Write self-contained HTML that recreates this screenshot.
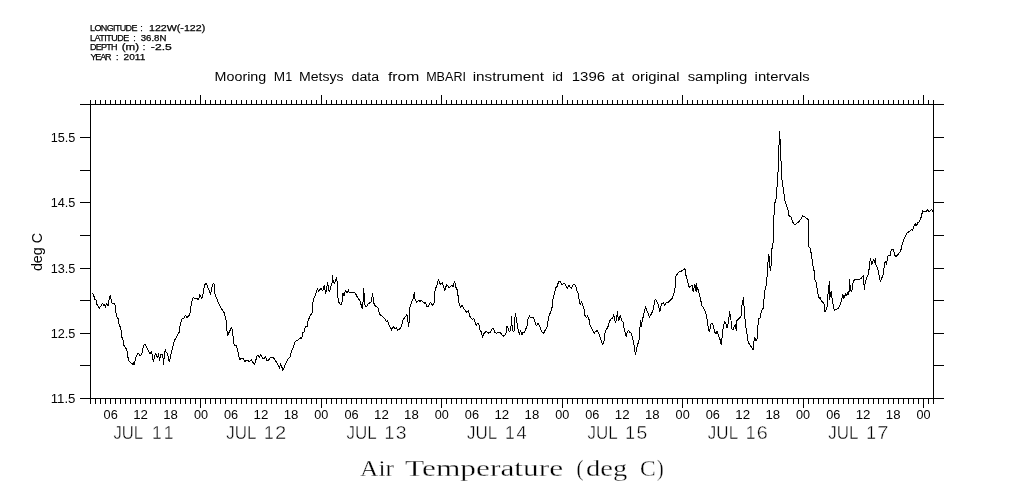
<!DOCTYPE html>
<html>
<head>
<meta charset="utf-8">
<title>Air Temperature (deg C)</title>
<style>
html,body{margin:0;padding:0;background:#fff;}
body{width:1009px;height:504px;overflow:hidden;font-family:"Liberation Sans",sans-serif;}
svg{display:block;}
svg text{font-family:"Liberation Sans",sans-serif;fill:#000;}
</style>
</head>
<body>
<svg width="1009" height="504" viewBox="0 0 1009 504">
<rect x="0" y="0" width="1009" height="504" fill="#ffffff"/>
<path d="M80 104.5H944M80 398.5H944M90.5 104.5V398.5M933.5 104.5V398.5M90.5 104.5V100M90.5 398.5V404M95.5 104.5V100M95.5 398.5V404M100.5 104.5V100M100.5 398.5V404M105.5 104.5V100M105.5 398.5V404M110.5 104.5V100M110.5 398.5V404M115.5 104.5V100M115.5 398.5V404M120.5 104.5V100M120.5 398.5V404M125.5 104.5V100M125.5 398.5V404M130.5 104.5V100M130.5 398.5V404M135.5 104.5V100M135.5 398.5V404M140.5 104.5V100M140.5 398.5V404M145.5 104.5V100M145.5 398.5V404M150.5 104.5V100M150.5 398.5V404M155.5 104.5V100M155.5 398.5V404M160.5 104.5V100M160.5 398.5V404M165.5 104.5V100M165.5 398.5V404M170.5 104.5V100M170.5 398.5V404M175.5 104.5V100M175.5 398.5V404M180.5 104.5V100M180.5 398.5V404M185.5 104.5V100M185.5 398.5V404M190.5 104.5V100M190.5 398.5V404M195.5 104.5V100M195.5 398.5V404M200.5 104.5V95M200.5 398.5V408M205.5 104.5V100M205.5 398.5V404M210.5 104.5V100M210.5 398.5V404M215.5 104.5V100M215.5 398.5V404M220.5 104.5V100M220.5 398.5V404M225.5 104.5V100M225.5 398.5V404M231.5 104.5V100M231.5 398.5V404M236.5 104.5V100M236.5 398.5V404M241.5 104.5V100M241.5 398.5V404M246.5 104.5V100M246.5 398.5V404M251.5 104.5V100M251.5 398.5V404M256.5 104.5V100M256.5 398.5V404M261.5 104.5V100M261.5 398.5V404M266.5 104.5V100M266.5 398.5V404M271.5 104.5V100M271.5 398.5V404M276.5 104.5V100M276.5 398.5V404M281.5 104.5V100M281.5 398.5V404M286.5 104.5V100M286.5 398.5V404M291.5 104.5V100M291.5 398.5V404M296.5 104.5V100M296.5 398.5V404M301.5 104.5V100M301.5 398.5V404M306.5 104.5V100M306.5 398.5V404M311.5 104.5V100M311.5 398.5V404M316.5 104.5V100M316.5 398.5V404M321.5 104.5V95M321.5 398.5V408M326.5 104.5V100M326.5 398.5V404M331.5 104.5V100M331.5 398.5V404M336.5 104.5V100M336.5 398.5V404M341.5 104.5V100M341.5 398.5V404M346.5 104.5V100M346.5 398.5V404M351.5 104.5V100M351.5 398.5V404M356.5 104.5V100M356.5 398.5V404M361.5 104.5V100M361.5 398.5V404M366.5 104.5V100M366.5 398.5V404M371.5 104.5V100M371.5 398.5V404M376.5 104.5V100M376.5 398.5V404M381.5 104.5V100M381.5 398.5V404M386.5 104.5V100M386.5 398.5V404M391.5 104.5V100M391.5 398.5V404M396.5 104.5V100M396.5 398.5V404M401.5 104.5V100M401.5 398.5V404M406.5 104.5V100M406.5 398.5V404M411.5 104.5V100M411.5 398.5V404M416.5 104.5V100M416.5 398.5V404M421.5 104.5V100M421.5 398.5V404M426.5 104.5V100M426.5 398.5V404M431.5 104.5V100M431.5 398.5V404M436.5 104.5V100M436.5 398.5V404M441.5 104.5V95M441.5 398.5V408M446.5 104.5V100M446.5 398.5V404M451.5 104.5V100M451.5 398.5V404M456.5 104.5V100M456.5 398.5V404M461.5 104.5V100M461.5 398.5V404M466.5 104.5V100M466.5 398.5V404M471.5 104.5V100M471.5 398.5V404M476.5 104.5V100M476.5 398.5V404M481.5 104.5V100M481.5 398.5V404M486.5 104.5V100M486.5 398.5V404M491.5 104.5V100M491.5 398.5V404M496.5 104.5V100M496.5 398.5V404M501.5 104.5V100M501.5 398.5V404M506.5 104.5V100M506.5 398.5V404M512.5 104.5V100M512.5 398.5V404M517.5 104.5V100M517.5 398.5V404M522.5 104.5V100M522.5 398.5V404M527.5 104.5V100M527.5 398.5V404M532.5 104.5V100M532.5 398.5V404M537.5 104.5V100M537.5 398.5V404M542.5 104.5V100M542.5 398.5V404M547.5 104.5V100M547.5 398.5V404M552.5 104.5V100M552.5 398.5V404M557.5 104.5V100M557.5 398.5V404M562.5 104.5V95M562.5 398.5V408M567.5 104.5V100M567.5 398.5V404M572.5 104.5V100M572.5 398.5V404M577.5 104.5V100M577.5 398.5V404M582.5 104.5V100M582.5 398.5V404M587.5 104.5V100M587.5 398.5V404M592.5 104.5V100M592.5 398.5V404M597.5 104.5V100M597.5 398.5V404M602.5 104.5V100M602.5 398.5V404M607.5 104.5V100M607.5 398.5V404M612.5 104.5V100M612.5 398.5V404M617.5 104.5V100M617.5 398.5V404M622.5 104.5V100M622.5 398.5V404M627.5 104.5V100M627.5 398.5V404M632.5 104.5V100M632.5 398.5V404M637.5 104.5V100M637.5 398.5V404M642.5 104.5V100M642.5 398.5V404M647.5 104.5V100M647.5 398.5V404M652.5 104.5V100M652.5 398.5V404M657.5 104.5V100M657.5 398.5V404M662.5 104.5V100M662.5 398.5V404M667.5 104.5V100M667.5 398.5V404M672.5 104.5V100M672.5 398.5V404M677.5 104.5V100M677.5 398.5V404M682.5 104.5V95M682.5 398.5V408M687.5 104.5V100M687.5 398.5V404M692.5 104.5V100M692.5 398.5V404M697.5 104.5V100M697.5 398.5V404M702.5 104.5V100M702.5 398.5V404M707.5 104.5V100M707.5 398.5V404M712.5 104.5V100M712.5 398.5V404M717.5 104.5V100M717.5 398.5V404M722.5 104.5V100M722.5 398.5V404M727.5 104.5V100M727.5 398.5V404M732.5 104.5V100M732.5 398.5V404M737.5 104.5V100M737.5 398.5V404M742.5 104.5V100M742.5 398.5V404M747.5 104.5V100M747.5 398.5V404M752.5 104.5V100M752.5 398.5V404M757.5 104.5V100M757.5 398.5V404M762.5 104.5V100M762.5 398.5V404M767.5 104.5V100M767.5 398.5V404M772.5 104.5V100M772.5 398.5V404M777.5 104.5V100M777.5 398.5V404M782.5 104.5V100M782.5 398.5V404M787.5 104.5V100M787.5 398.5V404M793.5 104.5V100M793.5 398.5V404M798.5 104.5V100M798.5 398.5V404M803.5 104.5V95M803.5 398.5V408M808.5 104.5V100M808.5 398.5V404M813.5 104.5V100M813.5 398.5V404M818.5 104.5V100M818.5 398.5V404M823.5 104.5V100M823.5 398.5V404M828.5 104.5V100M828.5 398.5V404M833.5 104.5V100M833.5 398.5V404M838.5 104.5V100M838.5 398.5V404M843.5 104.5V100M843.5 398.5V404M848.5 104.5V100M848.5 398.5V404M853.5 104.5V100M853.5 398.5V404M858.5 104.5V100M858.5 398.5V404M863.5 104.5V100M863.5 398.5V404M868.5 104.5V100M868.5 398.5V404M873.5 104.5V100M873.5 398.5V404M878.5 104.5V100M878.5 398.5V404M883.5 104.5V100M883.5 398.5V404M888.5 104.5V100M888.5 398.5V404M893.5 104.5V100M893.5 398.5V404M898.5 104.5V100M898.5 398.5V404M903.5 104.5V100M903.5 398.5V404M908.5 104.5V100M908.5 398.5V404M913.5 104.5V100M913.5 398.5V404M918.5 104.5V100M918.5 398.5V404M923.5 104.5V95M923.5 398.5V408M928.5 104.5V100M928.5 398.5V404M933.5 104.5V100M933.5 398.5V404M80 137.5H90.5M933.5 137.5H944M80 170.5H90.5M933.5 170.5H944M80 202.5H90.5M933.5 202.5H944M80 235.5H90.5M933.5 235.5H944M80 268.5H90.5M933.5 268.5H944M80 300.5H90.5M933.5 300.5H944M80 333.5H90.5M933.5 333.5H944M80 365.5H90.5M933.5 365.5H944M80 398.5H90.5M933.5 398.5H944" fill="none" stroke="#000" stroke-width="1" shape-rendering="crispEdges"/>
<polyline points="92.0,293.8 93.5,294.3 94.7,299.3 96.3,300.1 96.6,303.7 99.3,308.4 102.5,303.4 103.9,305.2 104.8,304.8 105.5,307.6 106.4,303.7 108.2,305.8 109.4,296.9 110.6,295.3 111.3,301.7 112.4,303.4 114.2,303.1 115.4,306.0 115.8,312.0 116.7,316.7 118.6,319.5 119.1,325.5 120.7,327.0 121.7,336.9 122.9,338.9 123.7,345.0 126.9,349.8 127.9,357.2 129.3,361.7 131.3,363.2 132.3,364.7 133.3,362.7 134.3,365.2 135.6,358.2 138.3,352.8 140.3,356.2 142.2,352.3 143.7,345.0 145.2,344.3 149.7,353.7 151.7,351.8 153.4,362.2 155.4,352.8 157.6,358.2 158.6,352.8 159.4,361.2 160.8,354.2 162.8,354.2 163.4,365.2 164.4,354.7 165.4,349.3 166.1,352.3 167.5,353.7 169.3,362.2 170.7,355.7 172.7,347.3 173.5,343.3 175.0,339.4 176.0,337.9 179.4,331.9 179.7,328.0 180.2,324.1 182.1,318.7 184.1,318.2 185.4,315.5 187.1,317.5 189.4,315.2 190.4,312.2 190.9,306.8 191.9,301.3 193.4,297.3 195.3,299.0 197.3,298.3 198.6,300.3 199.6,294.4 201.6,298.3 202.8,295.9 203.8,289.4 204.8,284.4 206.5,283.5 210.5,294.4 212.7,284.0 214.2,283.8 214.7,292.9 217.7,301.3 220.6,307.3 224.1,312.7 225.6,317.7 226.6,323.1 226.7,329.4 227.7,335.4 231.4,327.5 232.4,329.4 233.7,343.3 234.9,345.8 236.4,345.8 237.7,349.8 238.8,356.7 240.3,360.2 241.0,358.2 243.3,358.7 245.3,362.2 246.0,360.2 248.3,360.7 249.0,362.2 251.5,359.7 254.5,365.2 256.9,356.2 258.2,355.5 259.5,358.2 260.5,354.5 263.5,359.2 265.4,356.5 266.6,360.2 268.4,360.2 270.8,357.2 272.6,357.2 274.4,358.9 277.5,363.7 279.5,368.6 280.5,363.2 283.0,370.4 285.0,365.2 288.5,358.2 289.9,357.7 291.6,350.8 293.4,346.8 295.4,341.3 297.4,340.4 301.2,337.4 301.5,339.4 302.8,332.4 304.3,331.9 305.3,327.0 307.1,326.5 307.7,322.0 309.7,316.6 312.1,312.7 312.7,303.7 313.7,298.3 315.7,294.3 317.4,288.4 318.4,291.3 321.3,288.4 322.6,291.3 324.3,285.4 325.6,294.3 327.6,282.4 329.3,292.3 331.3,284.9 332.2,282.9 332.5,275.5 333.2,281.9 334.5,283.4 336.5,277.5 337.2,281.9 337.7,296.3 338.9,302.3 340.5,305.2 341.9,303.2 342.9,293.3 344.1,295.8 345.4,290.4 347.4,292.8 348.6,289.4 349.1,292.8 354.8,292.3 357.5,297.3 360.0,300.8 362.3,309.2 363.0,302.8 363.5,288.4 364.5,296.8 365.0,304.7 366.5,307.2 367.5,304.5 371.4,301.6 372.6,293.3 373.6,302.8 375.4,306.2 377.9,307.7 379.9,314.7 382.3,316.1 385.4,319.8 386.6,322.1 387.6,320.4 388.6,324.3 391.3,328.9 391.3,330.7 392.1,328.5 393.3,326.5 394.7,328.5 396.5,327.7 397.9,330.3 400.5,328.1 401.7,325.7 402.5,321.3 404.4,317.8 406.4,315.2 406.8,314.7 407.6,316.6 407.5,321.7 408.4,322.5 408.4,326.7 408.6,322.5 409.6,322.1 409.6,308.3 410.8,304.3 413.2,298.3 414.5,292.4 414.7,298.3 416.5,302.3 419.2,299.8 419.7,301.8 421.2,300.3 424.6,303.3 425.4,301.8 426.6,306.3 428.6,306.3 430.4,302.3 432.4,305.3 434.4,302.3 434.8,292.4 435.8,287.9 437.0,285.4 438.5,279.5 440.5,284.9 442.3,282.5 444.7,290.4 446.7,284.4 449.2,287.9 451.9,285.4 452.9,286.9 454.6,281.5 455.9,287.4 457.4,290.4 458.9,302.8 460.6,307.8 461.8,305.3 466.3,312.2 468.3,310.7 469.8,316.2 472.3,319.7 473.8,318.7 476.4,326.3 477.1,323.8 478.7,323.8 480.4,331.7 481.4,330.8 482.4,337.5 483.9,333.7 486.4,331.3 488.7,333.2 490.3,332.2 492.3,328.6 493.6,328.8 494.8,332.2 496.6,333.5 497.8,332.2 500.3,332.2 501.7,334.7 503.7,336.2 505.9,334.5 506.5,326.3 507.5,326.3 509.5,332.2 510.9,328.8 511.5,315.9 512.2,328.8 513.5,332.2 514.4,330.3 514.6,320.8 515.4,313.4 516.6,320.8 518.1,329.3 519.4,335.2 520.4,330.3 522.1,335.2 522.6,332.5 524.4,332.2 527.0,326.3 528.0,319.3 529.5,315.4 530.3,317.9 533.5,317.9 536.5,326.3 537.7,322.8 539.4,325.3 541.9,332.2 543.4,333.5 547.4,326.3 548.4,317.3 551.9,309.0 552.6,300.3 554.9,291.3 555.7,287.9 557.4,285.9 558.4,281.9 560.4,281.4 561.7,284.9 563.4,283.4 564.8,283.7 567.3,288.4 568.8,285.4 571.3,288.4 573.3,284.4 574.8,284.4 576.5,287.9 577.2,291.8 578.5,293.3 579.2,300.8 580.5,305.2 581.5,301.3 584.2,309.7 584.7,315.2 586.7,317.6 587.5,315.5 589.0,319.4 590.0,325.3 592.9,330.8 594.4,334.3 594.9,331.8 597.4,330.6 598.4,332.3 602.4,344.2 603.7,343.2 605.3,331.3 607.8,327.3 609.6,320.9 611.6,318.4 612.8,318.1 613.6,314.4 614.6,318.9 615.6,323.4 616.5,318.9 617.5,311.4 617.9,316.9 618.9,320.4 620.2,314.9 621.7,320.9 623.2,322.4 624.2,328.8 626.2,337.2 627.2,332.3 628.7,330.3 629.4,331.8 631.1,333.3 632.4,337.2 634.1,345.7 635.5,354.6 637.1,346.7 639.1,339.7 639.8,329.3 640.6,320.4 641.0,327.3 642.3,320.4 644.5,311.4 645.5,306.5 649.5,317.4 653.0,310.5 654.0,305.0 655.4,298.7 658.4,304.7 659.8,312.1 661.3,304.2 663.6,302.7 664.6,306.2 666.0,302.7 668.3,302.2 672.2,298.2 674.2,292.8 675.2,287.3 675.7,276.4 679.2,271.4 680.7,271.9 684.4,268.5 685.4,270.0 685.6,273.9 689.1,287.3 692.1,285.3 692.4,287.8 693.4,292.3 694.4,284.8 695.0,284.8 696.3,292.3 696.5,283.3 697.0,286.8 698.5,290.8 702.0,305.7 703.5,307.7 705.5,312.4 706.4,315.4 708.1,326.3 709.4,332.3 710.9,323.8 711.9,323.3 713.4,325.8 714.9,332.8 716.4,333.3 717.1,330.8 718.4,335.2 720.3,340.2 721.3,345.2 722.6,331.8 723.6,325.3 724.6,321.3 726.0,324.3 727.0,328.3 728.3,323.3 729.6,311.4 731.0,320.4 731.7,328.8 733.2,329.3 735.2,324.3 736.5,331.3 736.7,320.8 740.7,316.9 741.5,315.4 741.5,305.4 742.5,304.0 743.4,297.1 743.7,305.0 744.4,306.5 744.4,318.4 745.4,319.9 745.8,326.8 747.1,334.2 748.1,341.2 749.1,343.7 753.4,350.1 753.6,344.7 754.4,337.2 756.3,341.2 757.5,337.2 757.7,328.3 758.7,318.9 760.3,317.9 760.6,314.5 762.5,309.0 763.4,308.2 763.7,299.0 764.5,298.7 764.9,289.9 765.9,287.5 766.5,280.0 767.7,272.8 767.9,262.4 768.7,261.4 768.8,253.6 770.3,271.4 771.3,263.9 771.3,256.0 771.6,252.1 772.6,243.2 773.5,242.7 773.5,215.5 774.5,214.5 774.5,202.5 775.5,202.5 775.5,199.5 776.5,198.5 776.5,187.5 777.5,186.5 777.5,172.5 778.5,171.5 778.5,145.5 779.5,144.5 779.5,130.7 779.5,138.5 780.5,139.5 780.5,160.5 781.5,161.5 781.5,179.5 782.5,180.5 782.5,186.5 783.5,187.5 783.5,193.5 784.5,194.5 784.5,200.5 785.5,201.5 785.5,203.5 786.5,204.5 786.5,206.5 787.5,207.5 787.5,209.5 788.5,210.5 788.5,214.9 791.2,217.4 792.7,221.9 794.6,224.8 798.6,221.9 801.6,217.9 802.8,215.7 805.6,217.4 808.5,219.9 808.7,246.7 810.0,248.2 811.5,254.6 812.5,263.9 814.0,270.4 815.0,279.8 816.3,282.8 818.0,294.2 819.2,298.6 819.9,296.7 821.4,301.1 823.9,303.2 824.9,312.1 826.4,309.6 827.4,304.7 827.9,294.8 828.9,285.3 829.7,281.4 829.7,299.7 830.4,293.8 831.4,291.3 831.9,297.2 833.4,306.7 834.3,310.1 838.3,308.5 840.8,303.2 842.8,294.3 843.8,298.7 845.8,293.3 846.5,295.8 848.2,291.3 848.9,294.8 849.5,279.4 850.5,289.8 851.9,291.3 853.2,281.4 854.5,279.7 860.6,278.9 863.4,275.4 864.4,290.3 865.1,282.9 866.6,277.9 868.6,273.9 869.6,263.2 870.6,258.2 871.6,265.2 873.6,259.2 874.3,262.7 875.6,258.2 876.0,265.2 877.6,267.7 878.8,273.6 880.3,281.4 883.4,274.4 883.7,270.1 884.7,263.2 885.5,260.7 886.5,265.2 887.5,256.7 888.7,255.3 890.2,255.8 890.7,251.3 891.9,249.3 893.2,249.8 894.4,252.8 895.4,257.2 897.6,254.8 900.6,251.3 902.1,244.8 903.6,240.4 905.6,235.4 907.0,232.9 909.2,231.6 911.4,229.5 912.6,230.3 913.8,226.3 915.2,223.6 916.2,226.3 917.8,222.8 919.4,222.0 920.6,218.0 921.6,217.2 922.4,210.1 922.9,211.4 926.1,211.3 927.3,209.3 928.7,211.5 930.5,210.9 931.7,209.3 932.9,211.3" fill="none" stroke="#000" stroke-width="1" stroke-linejoin="bevel" shape-rendering="crispEdges"/>
<g opacity="0.999">
<text x="90.06" y="31.0" font-size="9" textLength="47.42" lengthAdjust="spacing" stroke="#000" stroke-width="0.25">LONGITUDE</text>
<text x="140.28" y="31.0" font-size="9" stroke="#000" stroke-width="0.25">:</text>
<text x="148.99" y="31.0" font-size="9" textLength="56.27" lengthAdjust="spacingAndGlyphs" stroke="#000" stroke-width="0.25">122W(-122)</text>
<text x="90.06" y="40.7" font-size="9" textLength="39.21" lengthAdjust="spacing" stroke="#000" stroke-width="0.25">LATITUDE</text>
<text x="133.18" y="40.7" font-size="9" stroke="#000" stroke-width="0.25">:</text>
<text x="140.73" y="40.7" font-size="9" textLength="25.75" lengthAdjust="spacingAndGlyphs" stroke="#000" stroke-width="0.25">36.8N</text>
<text x="90.06" y="50.3" font-size="9" textLength="27.47" lengthAdjust="spacing" stroke="#000" stroke-width="0.25">DEPTH</text>
<text x="121.78" y="50.3" font-size="9" textLength="17.33" lengthAdjust="spacingAndGlyphs" stroke="#000" stroke-width="0.25">(m)</text>
<text x="142.68" y="50.3" font-size="9" stroke="#000" stroke-width="0.25">:</text>
<text x="150.87" y="50.3" font-size="9" textLength="20.93" lengthAdjust="spacingAndGlyphs" stroke="#000" stroke-width="0.25">-2.5</text>
<text x="90.60" y="60.0" font-size="9" textLength="20.81" lengthAdjust="spacing" stroke="#000" stroke-width="0.25">YEAR</text>
<text x="115.98" y="60.0" font-size="9" stroke="#000" stroke-width="0.25">:</text>
<text x="123.60" y="60.0" font-size="9" textLength="21.69" lengthAdjust="spacingAndGlyphs" stroke="#000" stroke-width="0.25">2011</text>
<text x="214.63" y="80.6" font-size="12.5" textLength="51.58" lengthAdjust="spacingAndGlyphs">Mooring</text>
<text x="273.68" y="80.6" font-size="12.5" textLength="11.33" lengthAdjust="spacingAndGlyphs">M</text>
<text x="285.25" y="80.6" font-size="12.5">1</text>
<text x="299.05" y="80.6" font-size="12.5" textLength="44.56" lengthAdjust="spacingAndGlyphs">Metsys</text>
<text x="351.50" y="80.6" font-size="12.5" textLength="27.59" lengthAdjust="spacingAndGlyphs">data</text>
<text x="387.98" y="80.6" font-size="12.5" textLength="31.34" lengthAdjust="spacingAndGlyphs">from</text>
<text x="426.17" y="80.6" font-size="12.5" textLength="39.79" lengthAdjust="spacingAndGlyphs">MBARI</text>
<text x="472.69" y="80.6" font-size="12.5" textLength="71.41" lengthAdjust="spacingAndGlyphs">instrument</text>
<text x="552.18" y="80.6" font-size="12.5" textLength="10.81" lengthAdjust="spacingAndGlyphs">id</text>
<text x="571.76" y="80.6" font-size="12.5" textLength="33.29" lengthAdjust="spacingAndGlyphs">1396</text>
<text x="611.25" y="80.6" font-size="12.5" textLength="12.96" lengthAdjust="spacingAndGlyphs">at</text>
<text x="631.88" y="80.6" font-size="12.5" textLength="47.70" lengthAdjust="spacingAndGlyphs">original</text>
<text x="687.70" y="80.6" font-size="12.5" textLength="59.55" lengthAdjust="spacingAndGlyphs">sampling</text>
<text x="754.62" y="80.6" font-size="12.5" textLength="55.10" lengthAdjust="spacingAndGlyphs">intervals</text>
<text x="50.74" y="141.8" font-size="12" textLength="24.69" lengthAdjust="spacingAndGlyphs">15.5</text>
<text x="50.74" y="206.8" font-size="12" textLength="24.69" lengthAdjust="spacingAndGlyphs">14.5</text>
<text x="50.74" y="272.8" font-size="12" textLength="24.69" lengthAdjust="spacingAndGlyphs">13.5</text>
<text x="50.74" y="337.8" font-size="12" textLength="24.69" lengthAdjust="spacingAndGlyphs">12.5</text>
<text x="50.70" y="402.8" font-size="12" textLength="24.75" lengthAdjust="spacingAndGlyphs">11.5</text>
<text transform="translate(41.8,271.1) rotate(-90)" font-size="14" textLength="38.2" lengthAdjust="spacingAndGlyphs">deg C</text>
<text x="103.58" y="419.0" font-size="12" textLength="14.15" lengthAdjust="spacingAndGlyphs">06</text>
<text x="133.17" y="419.0" font-size="12" textLength="14.78" lengthAdjust="spacingAndGlyphs">12</text>
<text x="163.28" y="419.0" font-size="12" textLength="14.67" lengthAdjust="spacingAndGlyphs">18</text>
<text x="193.90" y="419.0" font-size="12" textLength="14.08" lengthAdjust="spacingAndGlyphs">00</text>
<text x="224.00" y="419.0" font-size="12" textLength="14.15" lengthAdjust="spacingAndGlyphs">06</text>
<text x="253.60" y="419.0" font-size="12" textLength="14.78" lengthAdjust="spacingAndGlyphs">12</text>
<text x="283.71" y="419.0" font-size="12" textLength="14.67" lengthAdjust="spacingAndGlyphs">18</text>
<text x="314.33" y="419.0" font-size="12" textLength="14.08" lengthAdjust="spacingAndGlyphs">00</text>
<text x="344.43" y="419.0" font-size="12" textLength="14.15" lengthAdjust="spacingAndGlyphs">06</text>
<text x="374.03" y="419.0" font-size="12" textLength="14.78" lengthAdjust="spacingAndGlyphs">12</text>
<text x="404.14" y="419.0" font-size="12" textLength="14.67" lengthAdjust="spacingAndGlyphs">18</text>
<text x="434.76" y="419.0" font-size="12" textLength="14.08" lengthAdjust="spacingAndGlyphs">00</text>
<text x="464.86" y="419.0" font-size="12" textLength="14.15" lengthAdjust="spacingAndGlyphs">06</text>
<text x="494.45" y="419.0" font-size="12" textLength="14.78" lengthAdjust="spacingAndGlyphs">12</text>
<text x="524.57" y="419.0" font-size="12" textLength="14.67" lengthAdjust="spacingAndGlyphs">18</text>
<text x="555.18" y="419.0" font-size="12" textLength="14.08" lengthAdjust="spacingAndGlyphs">00</text>
<text x="585.29" y="419.0" font-size="12" textLength="14.15" lengthAdjust="spacingAndGlyphs">06</text>
<text x="614.88" y="419.0" font-size="12" textLength="14.78" lengthAdjust="spacingAndGlyphs">12</text>
<text x="645.00" y="419.0" font-size="12" textLength="14.67" lengthAdjust="spacingAndGlyphs">18</text>
<text x="675.61" y="419.0" font-size="12" textLength="14.08" lengthAdjust="spacingAndGlyphs">00</text>
<text x="705.72" y="419.0" font-size="12" textLength="14.15" lengthAdjust="spacingAndGlyphs">06</text>
<text x="735.31" y="419.0" font-size="12" textLength="14.78" lengthAdjust="spacingAndGlyphs">12</text>
<text x="765.43" y="419.0" font-size="12" textLength="14.67" lengthAdjust="spacingAndGlyphs">18</text>
<text x="796.04" y="419.0" font-size="12" textLength="14.08" lengthAdjust="spacingAndGlyphs">00</text>
<text x="826.15" y="419.0" font-size="12" textLength="14.15" lengthAdjust="spacingAndGlyphs">06</text>
<text x="855.74" y="419.0" font-size="12" textLength="14.78" lengthAdjust="spacingAndGlyphs">12</text>
<text x="885.85" y="419.0" font-size="12" textLength="14.67" lengthAdjust="spacingAndGlyphs">18</text>
<text x="916.47" y="419.0" font-size="12" textLength="14.08" lengthAdjust="spacingAndGlyphs">00</text>
<text x="113.45" y="438.9" font-size="17.5" textLength="29.71" lengthAdjust="spacingAndGlyphs" stroke="#fff" stroke-width="0.4">JUL</text>
<text x="151.97" y="438.9" font-size="17.5" stroke="#fff" stroke-width="0.4">1</text>
<text x="163.87" y="438.9" font-size="17.5" stroke="#fff" stroke-width="0.4">1</text>
<text x="226.15" y="438.9" font-size="17.5" textLength="30.22" lengthAdjust="spacingAndGlyphs" stroke="#fff" stroke-width="0.4">JUL</text>
<text x="264.07" y="438.9" font-size="17.5" stroke="#fff" stroke-width="0.4">1</text>
<text x="275.09" y="438.9" font-size="17.5" textLength="11.22" lengthAdjust="spacingAndGlyphs" stroke="#fff" stroke-width="0.4">2</text>
<text x="346.58" y="438.9" font-size="17.5" textLength="30.22" lengthAdjust="spacingAndGlyphs" stroke="#fff" stroke-width="0.4">JUL</text>
<text x="384.50" y="438.9" font-size="17.5" stroke="#fff" stroke-width="0.4">1</text>
<text x="395.79" y="438.9" font-size="17.5" textLength="10.77" lengthAdjust="spacingAndGlyphs" stroke="#fff" stroke-width="0.4">3</text>
<text x="467.01" y="438.9" font-size="17.5" textLength="30.22" lengthAdjust="spacingAndGlyphs" stroke="#fff" stroke-width="0.4">JUL</text>
<text x="504.93" y="438.9" font-size="17.5" stroke="#fff" stroke-width="0.4">1</text>
<text x="516.56" y="438.9" font-size="17.5" textLength="10.13" lengthAdjust="spacingAndGlyphs" stroke="#fff" stroke-width="0.4">4</text>
<text x="587.44" y="438.9" font-size="17.5" textLength="30.22" lengthAdjust="spacingAndGlyphs" stroke="#fff" stroke-width="0.4">JUL</text>
<text x="625.36" y="438.9" font-size="17.5" stroke="#fff" stroke-width="0.4">1</text>
<text x="636.62" y="438.9" font-size="17.5" textLength="10.77" lengthAdjust="spacingAndGlyphs" stroke="#fff" stroke-width="0.4">5</text>
<text x="707.87" y="438.9" font-size="17.5" textLength="30.22" lengthAdjust="spacingAndGlyphs" stroke="#fff" stroke-width="0.4">JUL</text>
<text x="745.79" y="438.9" font-size="17.5" stroke="#fff" stroke-width="0.4">1</text>
<text x="756.83" y="438.9" font-size="17.5" textLength="11.05" lengthAdjust="spacingAndGlyphs" stroke="#fff" stroke-width="0.4">6</text>
<text x="828.30" y="438.9" font-size="17.5" textLength="30.22" lengthAdjust="spacingAndGlyphs" stroke="#fff" stroke-width="0.4">JUL</text>
<text x="866.22" y="438.9" font-size="17.5" stroke="#fff" stroke-width="0.4">1</text>
<text x="877.22" y="438.9" font-size="17.5" textLength="11.25" lengthAdjust="spacingAndGlyphs" stroke="#fff" stroke-width="0.4">7</text>
<text x="360.07" y="475.7" font-size="24" textLength="33.83" lengthAdjust="spacingAndGlyphs" style="font-family:'Liberation Serif',serif" stroke="#fff" stroke-width="0.3">Air</text>
<text x="405.04" y="475.7" font-size="24" textLength="158.13" lengthAdjust="spacingAndGlyphs" style="font-family:'Liberation Serif',serif" stroke="#fff" stroke-width="0.3">Temperature</text>
<text x="576.58" y="475.7" font-size="24" textLength="7.10" lengthAdjust="spacingAndGlyphs" style="font-family:'Liberation Serif',serif" stroke="#fff" stroke-width="0.3">(</text>
<text x="585.97" y="475.7" font-size="24" textLength="41.27" lengthAdjust="spacingAndGlyphs" style="font-family:'Liberation Serif',serif" stroke="#fff" stroke-width="0.3">deg</text>
<text x="640.04" y="475.7" font-size="24" textLength="15.65" lengthAdjust="spacingAndGlyphs" style="font-family:'Liberation Serif',serif" stroke="#fff" stroke-width="0.3">C</text>
<text x="656.97" y="475.7" font-size="24" textLength="6.58" lengthAdjust="spacingAndGlyphs" style="font-family:'Liberation Serif',serif" stroke="#fff" stroke-width="0.3">)</text>
</g>
</svg>
</body>
</html>
